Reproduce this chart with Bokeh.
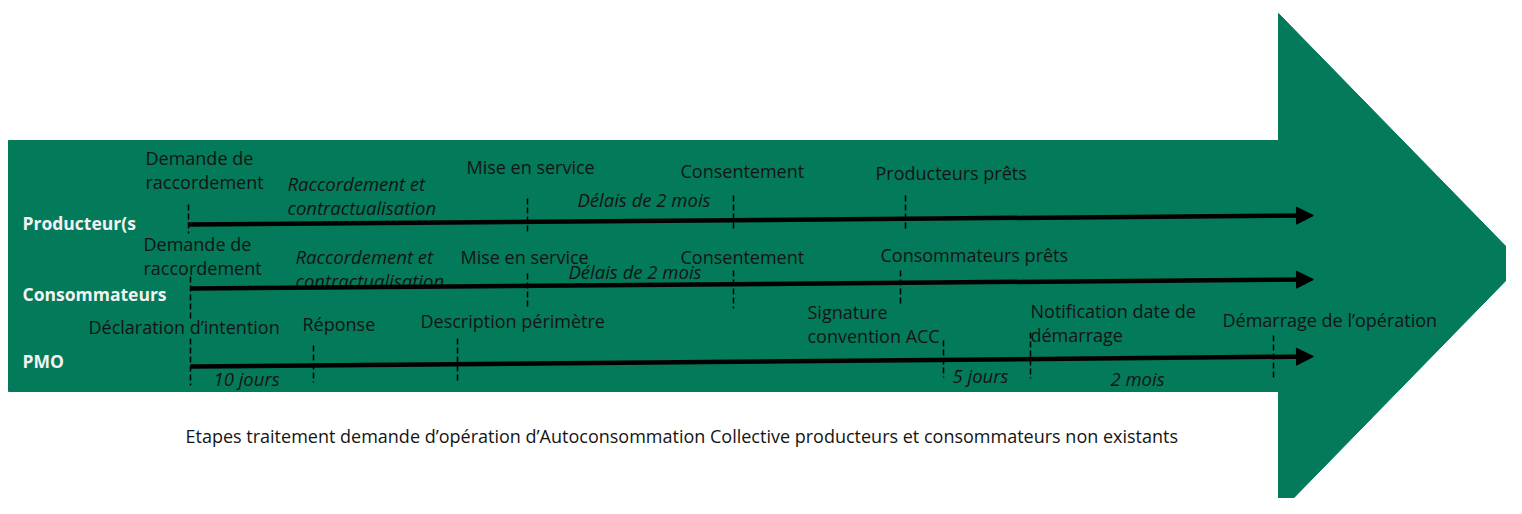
from bokeh.plotting import figure
from bokeh.models import Range1d, ColumnDataSource, Arrow, NormalHead
from bokeh.core.properties import value
from bokeh.embed import file_html
from bokeh.resources import INLINE

# ---- background big arrow (pixel-like coordinates) ----
arrow_x = [8, 1278, 1278, 1522, 1278, 1278, 8]
arrow_y = [140, 140, 13, 263, 513, 391, 391]

# ---- lanes ----
lanes = ["Producteur(s", "Consommateurs", "PMO"]
lane_label_x = [22, 22, 22]
lane_label_y = [222, 293, 360]
line_x0 = [188, 190, 190]
line_x1 = [1313, 1313, 1313]
line_y0 = [224, 288, 366]
line_y1 = [215, 279, 356]

# ---- milestone ticks (x, top, bottom) ----
tick_x = [188, 527, 733, 905, 190, 527, 733, 900, 190, 313, 457, 943, 1030, 1273]
tick_top = [204, 198, 195, 195, 276, 273, 270, 270, 338, 345, 338, 340, 332, 335]
tick_bot = [233, 233, 228, 230, 318, 307, 308, 305, 385, 382, 380, 377, 378, 377]

# ---- milestone labels ----
ms_text = ["Demande de\nraccordement", "Mise en service", "Consentement", "Producteurs prêts",
           "Demande de\nraccordement", "Mise en service", "Consentement", "Consommateurs prêts",
           "Déclaration d\u2019intention", "Réponse", "Description périmètre",
           "Signature\nconvention ACC", "Notification date de\ndémarrage",
           "Démarrage de l\u2019opération"]
ms_x = [145, 466, 680, 875, 143, 460, 680, 880, 88, 302, 420, 807, 1030, 1222]
ms_y = [157, 166, 170, 172, 243, 256, 256, 254, 326, 323, 320, 311, 310, 319]

# ---- durations (italic) ----
dur_text = ["Raccordement et\ncontractualisation", "Délais de 2 mois",
            "Raccordement et\ncontractualisation", "Délais de 2 mois",
            "10 jours", "5 jours", "2 mois"]
dur_x = [287, 577, 295, 568, 213, 952, 1110]
dur_y = [183, 199, 256, 271, 378, 375, 378]

caption = ("Etapes traitement demande d\u2019opération d\u2019Autoconsommation Collective "
           "producteurs et consommateurs non existants")
caption_x = 185
caption_y = 435

LINE_STEP = 24
GREEN = "#037A5A"
DARK = "#141414"
FONT = "Open Sans"


def split_lines(texts, xs, ys):
    t2, x2, y2 = [], [], []
    for t, x, y in zip(texts, xs, ys):
        for i, part in enumerate(t.split("\n")):
            t2.append(part)
            x2.append(x)
            y2.append(y + i * LINE_STEP)
    return dict(text=t2, x=x2, y=y2)


p = figure(width=1506, height=498, output_backend="svg", toolbar_location=None,
           x_range=Range1d(0, 1506), y_range=Range1d(498, 0),
           min_border=0, outline_line_color=None, background_fill_color="white")
p.axis.visible = False
p.grid.visible = False

p.patch(arrow_x, arrow_y, fill_color=GREEN, line_color=GREEN)

# lane arrows
src = ColumnDataSource(dict(x0=line_x0, y0=line_y0, x1=line_x1, y1=line_y1))
p.add_layout(Arrow(source=src, x_start="x0", y_start="y0", x_end="x1", y_end="y1",
                   line_width=4.5, line_color="black",
                   end=NormalHead(size=17, fill_color="black", line_color="black")))

# ticks
p.segment(x0=tick_x, y0=tick_top, x1=tick_x, y1=tick_bot,
          line_color="black", line_width=1.5, line_dash="6 3")

# lane labels
p.text(x=lane_label_x, y=lane_label_y, text=lanes, text_color="#f2f2f2",
       text_font=value(FONT), text_font_size="17.5px", text_font_style="bold",
       text_baseline="middle", text_align="left")

ms = split_lines(ms_text, ms_x, ms_y)
p.text(x="x", y="y", text="text", source=ColumnDataSource(ms), text_color=DARK,
       text_font=value(FONT), text_font_size="18px",
       text_baseline="middle", text_align="left")

du = split_lines(dur_text, dur_x, dur_y)
p.text(x="x", y="y", text="text", source=ColumnDataSource(du), text_color=DARK,
       text_font=value(FONT), text_font_size="18.5px", text_font_style="italic",
       text_baseline="middle", text_align="left")

p.text(x=[caption_x], y=[caption_y], text=[caption], text_color=DARK,
       text_font=value(FONT), text_font_size="18px",
       text_baseline="middle", text_align="left")

open("out.html", "w").write(file_html(p, INLINE))
